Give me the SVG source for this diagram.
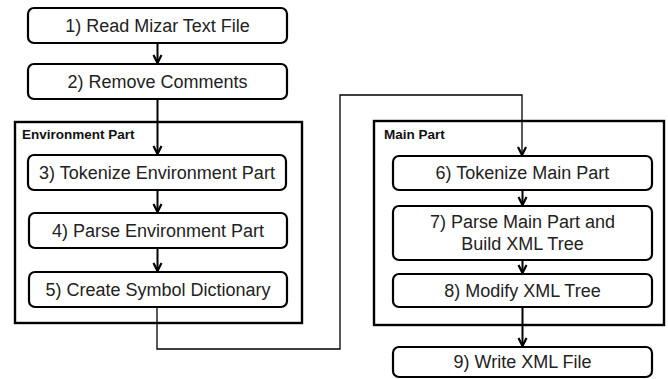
<svg xmlns="http://www.w3.org/2000/svg" width="668" height="379" viewBox="0 0 668 379">
  <style>
    .box { fill: #fff; stroke: #000; stroke-width: 2.2; }
    .frame { fill: #fff; stroke: #000; stroke-width: 2.4; }
    .lbl { font-family: "Liberation Sans", Arial, sans-serif; font-size: 18px; fill: #222; text-anchor: middle; }
    .title { font-family: "Liberation Sans", Arial, sans-serif; font-size: 13.5px; font-weight: bold; fill: #111; }
    .conn { fill: none; stroke: #000; stroke-width: 2; }
    .thin { fill: none; stroke: #000; stroke-width: 1.3; }
  </style>
  <defs>
    <marker id="chev" viewBox="0 0 10 10" refX="9" refY="5" markerWidth="10" markerHeight="11" markerUnits="userSpaceOnUse" orient="auto">
      <path d="M1,1 L9,5 L1,9" fill="none" stroke="#000" stroke-width="2.2"/>
    </marker>
  </defs>

  <!-- group frames -->
  <g id="env-part">
    <rect class="frame" x="15" y="122" width="287" height="201"/>
    <text class="title" x="22" y="139">Environment Part</text>
  </g>
  <g id="main-part">
    <rect class="frame" x="374" y="121" width="290" height="204"/>
    <text class="title" x="384" y="139">Main Part</text>
  </g>

  <!-- process steps -->
  <g id="step1">
    <rect class="box" x="28" y="8" width="259" height="35" rx="6"/>
    <text class="lbl" x="157.5" y="32">1) Read Mizar Text File</text>
  </g>
  <g id="step2">
    <rect class="box" x="28" y="64" width="259" height="35" rx="6"/>
    <text class="lbl" x="157.5" y="88">2) Remove Comments</text>
  </g>
  <g id="step3">
    <rect class="box" x="28" y="155" width="258" height="35" rx="6"/>
    <text class="lbl" x="157" y="179">3) Tokenize Environment Part</text>
  </g>
  <g id="step4">
    <rect class="box" x="29" y="213" width="258" height="35" rx="6"/>
    <text class="lbl" x="158" y="237">4) Parse Environment Part</text>
  </g>
  <g id="step5">
    <rect class="box" x="29" y="272" width="258" height="35" rx="6"/>
    <text class="lbl" x="158" y="296">5) Create Symbol Dictionary</text>
  </g>
  <g id="step6">
    <rect class="box" x="393" y="156" width="259" height="34" rx="6"/>
    <text class="lbl" x="522.5" y="179">6) Tokenize Main Part</text>
  </g>
  <g id="step7">
    <rect class="box" x="393" y="206" width="259" height="54" rx="6"/>
    <text class="lbl" x="522.5" y="227.5">7) Parse Main Part and</text>
    <text class="lbl" x="522.5" y="250">Build XML Tree</text>
  </g>
  <g id="step8">
    <rect class="box" x="393" y="274" width="259" height="33" rx="6"/>
    <text class="lbl" x="522.5" y="297">8) Modify XML Tree</text>
  </g>
  <g id="step9">
    <rect class="box" x="393" y="347" width="259" height="30" rx="6"/>
    <text class="lbl" x="522.5" y="368">9) Write XML File</text>
  </g>

  <!-- connectors -->
  <g id="connectors">
    <path class="conn" d="M157.5,43 V63" marker-end="url(#chev)"/>
    <path class="conn" d="M157.5,99 V154" marker-end="url(#chev)"/>
    <path class="conn" d="M157.5,190 V212" marker-end="url(#chev)"/>
    <path class="conn" d="M157.5,248 V271" marker-end="url(#chev)"/>
    <path class="thin" d="M157,307 V349 H340 V95 H522 V155" marker-end="url(#chev)"/>
    <path class="conn" d="M522.5,190 V205" marker-end="url(#chev)"/>
    <path class="conn" d="M522.5,260 V273" marker-end="url(#chev)"/>
    <path class="conn" d="M522.5,307 V346" stroke-width="2.6" marker-end="url(#chev)"/>
  </g>
</svg>
